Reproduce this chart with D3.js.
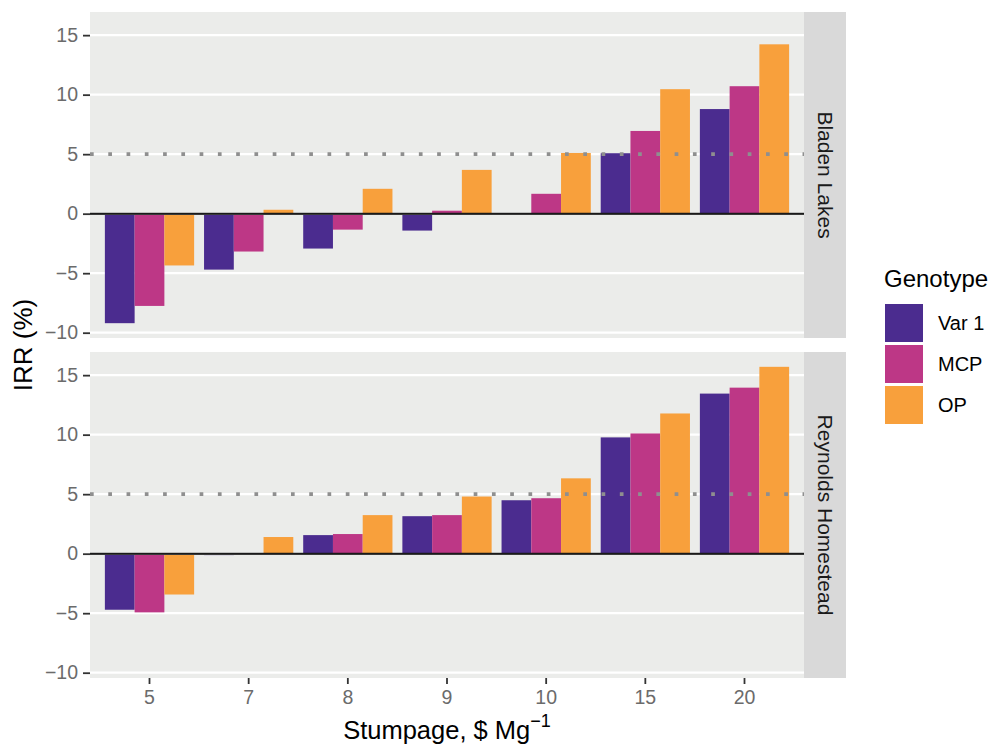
<!DOCTYPE html>
<html><head><meta charset="utf-8">
<script src="https://cdn.jsdelivr.net/npm/d3@7"></script>
<style>body{margin:0;background:#fff;} svg{display:block;font-family:"Liberation Sans",Arial,Helvetica,sans-serif;}</style>
</head><body>
<svg id="chart" width="996" height="746"></svg>
<script>
const categories = ["5","7","8","9","10","15","20"];
const genotypes = ["Var 1","MCP","OP"];
const sites = ["Bladen Lakes","Reynolds Homestead"];
const bladenVar1 = [-9.2,-4.7,-2.93,-1.42,0.0,5.08,8.79];
const bladenMCP  = [-7.75,-3.18,-1.34,0.25,1.67,6.95,10.71];
const bladenOP   = [-4.35,0.33,2.09,3.68,5.1,10.46,14.23];
const reynoldsVar1 = [-4.71,-0.12,1.56,3.15,4.49,9.77,13.45];
const reynoldsMCP  = [-4.93,-0.1,1.65,3.24,4.66,10.1,13.95];
const reynoldsOP   = [-3.43,1.4,3.24,4.8,6.33,11.78,15.7];
const yTicks = [-10,-5,0,5,10,15];
const targetIRR = 5;
const colors = ["#4b2c8f","#bd3786","#f8a03c"];

const seriesBySite = [[bladenVar1,bladenMCP,bladenOP],[reynoldsVar1,reynoldsMCP,reynoldsOP]];
const rows = [];
sites.forEach((s,si)=>genotypes.forEach((g,gi)=>categories.forEach((c,ci)=>rows.push({site:s,geno:g,cat:c,value:seriesBySite[si][gi][ci]}))));

const svg = d3.select("#chart");
const left=90, right=804, stripW=42;
const panels=[{top:12,bottom:338},{top:352,bottom:678}];

const x = d3.scaleBand().domain(categories).range([left,right]).paddingInner(0.1).paddingOuter(0.15);
const xg = d3.scaleBand().domain(genotypes).range([0,x.bandwidth()]);
const color = d3.scaleOrdinal().domain(genotypes).range(colors);
const ext = d3.extent(rows,d=>d.value);
const pad = (ext[1]-ext[0])*0.05;
const fmt = v => v<0 ? "\u2212"+Math.abs(v) : String(v);

sites.forEach((site,pi)=>{
  const P=panels[pi];
  const y = d3.scaleLinear().domain([ext[0]-pad, ext[1]+pad]).range([P.bottom,P.top]);
  const g = svg.append("g");
  g.append("rect").attr("x",left).attr("y",P.top).attr("width",right-left).attr("height",P.bottom-P.top).attr("fill","#ebecea");
  g.selectAll(".grid").data(yTicks).join("line")
    .attr("x1",left).attr("x2",right).attr("y1",d=>y(d)).attr("y2",d=>y(d))
    .attr("stroke","#fff").attr("stroke-width",2.2);
  g.selectAll(".bar").data(rows.filter(r=>r.site===site)).join("rect")
    .attr("x",d=>x(d.cat)+xg(d.geno)).attr("width",xg.bandwidth())
    .attr("y",d=>Math.min(y(d.value),y(0))).attr("height",d=>Math.abs(y(d.value)-y(0)))
    .attr("fill",d=>color(d.geno));
  g.append("line").attr("x1",left).attr("x2",right).attr("y1",y(0)+0.8).attr("y2",y(0)+0.8)
    .attr("stroke","#9a9a9a").attr("stroke-width",1.2);
  g.append("line").attr("x1",left).attr("x2",right).attr("y1",y(0)).attr("y2",y(0))
    .attr("stroke","#1a1a1a").attr("stroke-width",2);
  g.append("line").attr("x1",left).attr("x2",right).attr("y1",y(targetIRR)).attr("y2",y(targetIRR))
    .attr("stroke","#8f8f8f").attr("stroke-width",3.6).attr("stroke-dasharray","3.7 14.57");
  // y axis
  const ya = g.append("g").attr("transform",`translate(${left},0)`)
    .call(d3.axisLeft(y).tickValues(yTicks).tickFormat(fmt).tickSize(7).tickPadding(5));
  ya.select(".domain").remove();
  ya.selectAll(".tick line").attr("stroke","#333").attr("stroke-width",1.8);
  ya.selectAll(".tick text").attr("fill","#6b6b6b").style("font-size","19.5px");
  // strip
  g.append("rect").attr("x",right).attr("y",P.top).attr("width",stripW).attr("height",P.bottom-P.top).attr("fill","#d9d9d9");
  g.append("text").attr("transform",`translate(${right+stripW/2},${(P.top+P.bottom)/2}) rotate(90)`)
    .attr("text-anchor","middle").attr("dy","0.35em").attr("fill","#1a1a1a").style("font-size","21px").text(site);
  if(pi===1){
    const xa = g.append("g").attr("transform",`translate(0,${P.bottom})`)
      .call(d3.axisBottom(x).tickSize(6).tickPadding(6));
    xa.select(".domain").remove();
    xa.selectAll(".tick line").attr("stroke","#333").attr("stroke-width",1.8);
    xa.selectAll(".tick text").attr("fill","#6b6b6b").style("font-size","19.5px");
  }
});

// axis titles
svg.append("text").attr("transform",`translate(32,${(12+678)/2}) rotate(-90)`)
  .attr("text-anchor","middle").attr("fill","#000").style("font-size","26px").text("IRR (%)");
const xt = svg.append("text").attr("x",(left+right)/2).attr("y",739).attr("text-anchor","middle").attr("fill","#000").style("font-size","25.5px");
xt.append("tspan").text("Stumpage, $ Mg");
xt.append("tspan").attr("dy","-12").style("font-size","18px").text("\u22121");

// legend
const lg = svg.append("g").attr("transform","translate(884,0)");
lg.append("text").attr("x",0).attr("y",287).attr("fill","#000").style("font-size","24px").text("Genotype");
genotypes.forEach((gn,i)=>{
  const yy = 304 + i*41;
  lg.append("rect").attr("x",1).attr("y",yy).attr("width",38).attr("height",38).attr("fill",color(gn));
  lg.append("text").attr("x",54).attr("y",yy+19).attr("dy","0.35em").attr("fill","#000").style("font-size","20px").text(gn);
});
</script>
</body></html>
